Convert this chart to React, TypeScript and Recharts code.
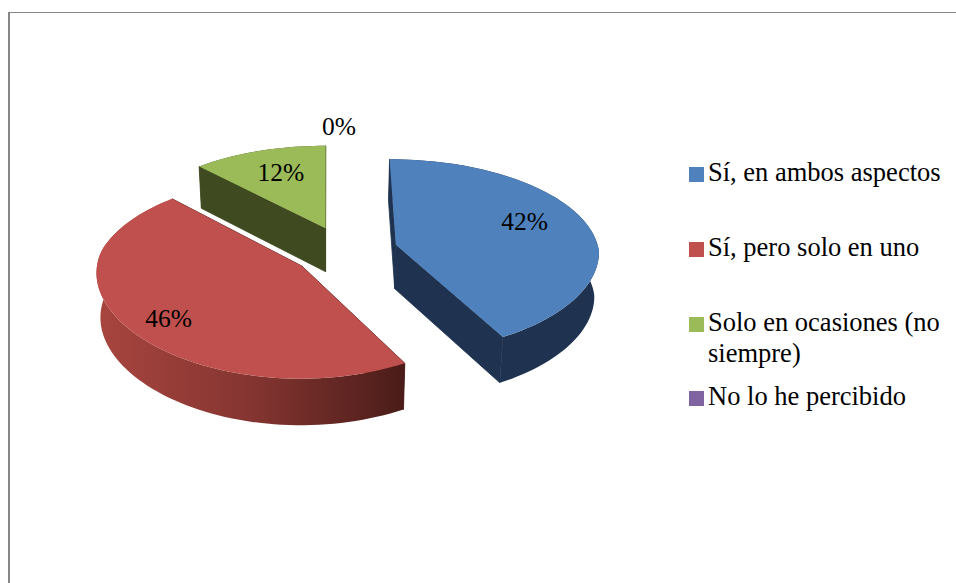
import React from 'react';
import { PieChart, Pie, Legend } from 'recharts';

// Survey answers and their shares, in percent
const categories = [
  'Sí, en ambos aspectos',
  'Sí, pero solo en uno',
  'Solo en ocasiones (no siempre)',
  'No lo he percibido',
];
const shares = [42, 46, 12, 0];

// Series colours: top face, cut faces, and the outer wall's shading from left to right
const topColors = ['#4F81BD', '#C0504D', '#9BBB59', '#8064A2'];
const cutColors = ['#1F3350', '#4A1C1A', '#3F4A20', '#33284A'];
const wallShades = [
  ['#1F3350', '#1F3350', '#1F3350'],
  ['#A8453F', '#853531', '#4A1C19'],
  ['#3F4A20', '#3F4A20', '#3F4A20'],
  ['#33284A', '#33284A', '#33284A'],
];

// Projection of the tilted disc on the page
const CENTER_X = 327;
const CENTER_Y = 251;
const RADIUS = 203;
const EXPLODE = 53;
const SHIFT_X = 18;
const TILT = 0.475;
const PERSPECTIVE_X_BACK = 0.0005;
const PERSPECTIVE_X_FRONT = 0.0003;
const PERSPECTIVE_Y = 0.00055;
const DEPTH = 44;
const DEPTH_FALLOFF = 0.00025;
const BASE_SHRINK = 0.983;

const SERIF = '"Liberation Serif", "Times New Roman", serif';
const LABEL_SIZE = 25.5;
const LEGEND_SIZE = 26.5;

const rows = categories.map((name, i) => ({ name, value: shares[i], fill: topColors[i] }));

const rad = (deg: number) => (deg * Math.PI) / 180;

// Maps a point of the disc plane to page space, on the top face or on the lowered base.
function project(cx: number, cy: number, X: number, Y: number, lowered: boolean) {
  const sx = 1 / (1 + (Y > 0 ? PERSPECTIVE_X_BACK : PERSPECTIVE_X_FRONT) * Y);
  const sy = 1 / (1 + PERSPECTIVE_Y * Y);
  const shrink = lowered ? BASE_SHRINK : 1;
  return {
    x: cx + (SHIFT_X + X) * sx * shrink,
    y: cy - TILT * Y * sy + (lowered ? DEPTH * (1 - DEPTH_FALLOFF * Y) : 0),
  };
}

const toPath = (pts: { x: number; y: number }[]) =>
  pts.map((p, i) => `${i ? 'L' : 'M'}${p.x.toFixed(2)} ${p.y.toFixed(2)}`).join(' ') + ' Z';

function SliceShape(props: any) {
  const { cx, cy, outerRadius, startAngle, endAngle, index = 0, fill } = props;
  const from = 90 - startAngle;
  const to = 90 - endAngle;
  if (Math.abs(to - from) < 0.01) return <g />;
  const mid = rad((from + to) / 2);
  const ax = EXPLODE * Math.sin(mid);
  const ay = EXPLODE * Math.cos(mid);

  const arc: { X: number; Y: number }[] = [];
  const steps = Math.max(2, Math.ceil((to - from) / 2));
  for (let i = 0; i <= steps; i++) {
    const t = rad(from + ((to - from) * i) / steps);
    arc.push({ X: ax + outerRadius * Math.sin(t), Y: ay + outerRadius * Math.cos(t) });
  }
  const top = (p: { X: number; Y: number }) => project(cx, cy, p.X, p.Y, false);
  const low = (p: { X: number; Y: number }) => project(cx, cy, p.X, p.Y, true);
  const apex = { X: ax, Y: ay };
  const first = arc[0];
  const last = arc[arc.length - 1];

  const gradientId = `wall-${index}`;
  const shades = wallShades[index];
  const xs = arc.map((p) => top(p).x);
  const cuts = [
    { key: 'start', avg: (apex.Y + first.Y) / 2, pts: [top(apex), top(first), low(first), low(apex)] },
    { key: 'end', avg: (apex.Y + last.Y) / 2, pts: [top(apex), top(last), low(last), low(apex)] },
  ].sort((a, b) => b.avg - a.avg);

  return (
    <g>
      <defs>
        <linearGradient
          id={gradientId}
          gradientUnits="userSpaceOnUse"
          x1={Math.min(...xs)}
          x2={Math.max(...xs)}
          y1={0}
          y2={0}
        >
          <stop offset="0%" stopColor={shades[0]} />
          <stop offset="50%" stopColor={shades[1]} />
          <stop offset="100%" stopColor={shades[2]} />
        </linearGradient>
      </defs>
      {/* A thin stroke closes the antialiasing seam between neighbouring wall faces */}
      {cuts.map((c) => (
        <path key={c.key} d={toPath(c.pts)} fill={cutColors[index]} stroke={cutColors[index]} strokeWidth={0.8} />
      ))}
      <path d={toPath([...arc.map(top), ...arc.slice().reverse().map(low)])} fill={`url(#${gradientId})`} />
      <path d={toPath([top(apex), ...arc.map(top)])} fill={fill} />
    </g>
  );
}

// Where each percentage sits along its slice's bisector, plus a small page nudge
const labelReach = [0.66, 0.8, 0.62, 0.98];
const labelNudge = [
  [3, -8],
  [4, 3],
  [-2, -6],
  [-4, -19],
];

function SliceLabel(props: any) {
  const { cx, cy, startAngle, endAngle, index = 0, outerRadius, value } = props;
  const from = 90 - startAngle;
  const to = 90 - endAngle;
  const mid = rad((from + to) / 2);
  const r = EXPLODE + outerRadius * labelReach[index];
  const p = project(cx, cy, r * Math.sin(mid), r * Math.cos(mid), false);
  return (
    <text
      x={p.x + labelNudge[index][0]}
      y={p.y + labelNudge[index][1]}
      textAnchor="middle"
      dominantBaseline="central"
      fontFamily={SERIF}
      fontSize={LABEL_SIZE}
      fill="#000"
    >
      {`${value}%`}
    </text>
  );
}

// Legend rows: vertical placement of each entry and of the column it starts in
const LEGEND_LEFT = 689;
const legendTops = [167, 242, 317, 391];

function LegendColumn({ payload }: any) {
  return (
    <div style={{ position: 'relative', width: 956, height: 583 }}>
      {(payload || []).map((item: any, i: number) => (
        <div key={item.value} style={{ position: 'absolute', left: LEGEND_LEFT, top: legendTops[i], width: 262 }}>
          <span
            style={{
              position: 'absolute',
              left: 0,
              top: 0,
              width: 15,
              height: 15,
              background: topColors[i],
            }}
          />
          <div
            style={{
              marginLeft: 19,
              marginTop: -10,
              fontFamily: SERIF,
              fontSize: LEGEND_SIZE,
              lineHeight: '31px',
              color: '#000',
            }}
          >
            {item.value}
          </div>
        </div>
      ))}
    </div>
  );
}

export default function App() {
  return (
    <div style={{ position: 'absolute', left: 0, top: 0, width: 956, height: 583, overflow: 'hidden', background: '#fff' }}>
      <div
        style={{
          position: 'absolute',
          left: 8,
          top: 12,
          right: 0,
          bottom: 0,
          borderLeft: '2px solid #868686',
          borderTop: '1px solid #868686',
        }}
      />
      <PieChart width={956} height={583} margin={{ top: 0, right: 0, bottom: 0, left: 0 }} style={{ position: 'absolute', left: 0, top: 0 }}>
        <Pie
          data={rows}
          dataKey="value"
          nameKey="name"
          cx={CENTER_X}
          cy={CENTER_Y}
          outerRadius={RADIUS}
          innerRadius={0}
          startAngle={90}
          endAngle={-270}
          stroke="none"
          isAnimationActive={false}
          shape={SliceShape}
          label={SliceLabel}
          labelLine={false}
        />
        <Legend
          layout="vertical"
          align="right"
          verticalAlign="top"
          itemSorter={null}
          content={LegendColumn}
          wrapperStyle={{ position: 'absolute', left: 0, top: 0, width: 956, height: 583, margin: 0 }}
        />
      </PieChart>
    </div>
  );
}
